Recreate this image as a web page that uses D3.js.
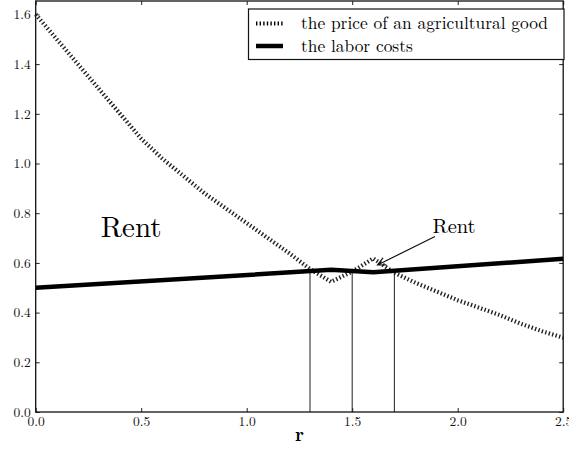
<!DOCTYPE html>
<html>
<head>
<meta charset="utf-8">
<script src="https://cdn.jsdelivr.net/npm/d3@7"></script>
<style>
  body { margin: 0; background: #fff; }
</style>
</head>
<body>
<div id="chart"></div>
<script>
(function () {
    'use strict';

    // price of an agricultural good
    var priceR = [0.0, 0.1, 0.2, 0.3, 0.4, 0.5, 0.6, 0.7, 0.8, 0.9, 1.0, 1.1, 1.2, 1.3,
        1.4, 1.5, 1.6, 1.7, 1.8, 1.9, 2.0, 2.1, 2.2, 2.3, 2.4, 2.5];
    var priceV = [1.600, 1.50, 1.40, 1.30, 1.20, 1.10, 1.02, 0.95, 0.88, 0.82, 0.76, 0.70, 0.64, 0.575,
        0.524, 0.565, 0.618, 0.560, 0.520, 0.485, 0.450, 0.420, 0.390, 0.355, 0.325, 0.299];

    // labor costs
    var laborR = [0.0, 1.4, 1.6, 2.5];
    var laborV = [0.500, 0.572, 0.562, 0.617];

    // vertical markers
    var markR = [1.3, 1.5, 1.7];
    var markV = [0.569, 0.570, 0.566];

    var xTicks = [0.0, 0.5, 1.0, 1.5, 2.0, 2.5];
    var yTicks = [0.0, 0.2, 0.4, 0.6, 0.8, 1.0, 1.2, 1.4, 1.6];
    var seriesNames = ['the price of an agricultural good', 'the labor costs'];

    var FONT = '"Latin Modern Roman", "CMU Serif", "Liberation Serif", serif';
    var W = 569, H = 452;
    var left = 35.7, right = 563.2, top = 1, bottom = 412;

    var svg = d3.select('#chart').append('svg')
        .attr('width', W).attr('height', H);
    svg.append('rect').attr('width', W).attr('height', H).attr('fill', '#fff');

    var x = d3.scaleLinear().domain([0, 2.5]).range([left, right]);
    var y = d3.scaleLinear().domain([0, 1.654]).range([bottom, top]);

    var fmt = d3.format('.1f');

    var line = d3.line()
        .x(function (d) { return x(d[0]); })
        .y(function (d) { return y(d[1]); });

    var price = priceR.map(function (r, i) { return [r, priceV[i]]; });
    var labor = laborR.map(function (r, i) { return [r, laborV[i]]; });

    var plot = svg.append('g');

    // vertical lines
    plot.selectAll('.mark')
        .data(markR)
        .enter()
        .append('line')
        .attr('class', 'mark')
        .attr('x1', function (d) { return x(d); })
        .attr('x2', function (d) { return x(d); })
        .attr('y1', y(0))
        .attr('y2', function (d, i) { return y(markV[i]); })
        .attr('stroke', '#333')
        .attr('stroke-width', 1.1);

    plot.append('path')
        .datum(price)
        .attr('d', line)
        .attr('fill', 'none')
        .attr('stroke', '#222')
        .attr('stroke-width', 4.2)
        .attr('stroke-dasharray', '1.4,2.2');

    plot.append('path')
        .datum(labor)
        .attr('d', line)
        .attr('fill', 'none')
        .attr('stroke', '#000')
        .attr('stroke-width', 4.5)
        .attr('stroke-linejoin', 'round');

    // axes, ticks inside like matplotlib
    var axes = svg.append('g').attr('class', 'axes');
    axes.append('g')
        .attr('transform', 'translate(0,' + bottom + ')')
        .call(d3.axisBottom(x).tickValues(xTicks).tickFormat(fmt).tickSize(-4).tickPadding(4));
    axes.append('g')
        .attr('transform', 'translate(0,' + top + ')')
        .call(d3.axisTop(x).tickValues(xTicks).tickFormat('').tickSize(-4));
    axes.append('g')
        .attr('transform', 'translate(' + left + ',0)')
        .call(d3.axisLeft(y).tickValues(yTicks).tickFormat(fmt).tickSize(-4).tickPadding(5));
    axes.append('g')
        .attr('transform', 'translate(' + right + ',0)')
        .call(d3.axisRight(y).tickValues(yTicks).tickFormat('').tickSize(-4));

    axes.selectAll('.domain').remove();
    axes.selectAll('.tick line').attr('stroke', '#222');
    axes.selectAll('.tick text')
        .attr('fill', '#111')
        .style('font-family', FONT)
        .style('font-size', '13.5px');

    axes.append('rect')
        .attr('x', left).attr('y', top)
        .attr('width', right - left).attr('height', bottom - top)
        .attr('fill', 'none')
        .attr('stroke', '#111')
        .attr('stroke-width', 1.3);

    // axis label
    svg.append('text')
        .attr('x', (left + right) / 2)
        .attr('y', 441)
        .attr('text-anchor', 'middle')
        .style('font-family', FONT)
        .style('font-size', '19px')
        .style('font-weight', 'bold')
        .text('r');

    // big label
    svg.append('text')
        .attr('x', x(0.308))
        .attr('y', y(0.703))
        .style('font-family', FONT)
        .style('font-size', '29px')
        .text('Rent');

    // annotation with arrow
    var ax0 = 435, ay0 = 236.5, ax1 = 377.5, ay1 = 265;
    svg.append('text')
        .attr('x', x(1.881))
        .attr('y', y(0.72))
        .style('font-family', FONT)
        .style('font-size', '20.5px')
        .text('Rent');
    var ang = Math.atan2(ay0 - ay1, ax0 - ax1);
    var hl = 9, hw = 0.45;
    svg.append('path')
        .attr('d', 'M' + ax0 + ',' + ay0 + 'L' + ax1 + ',' + ay1 +
            'M' + (ax1 + hl * Math.cos(ang + hw)) + ',' + (ay1 + hl * Math.sin(ang + hw)) +
            'L' + ax1 + ',' + ay1 +
            'L' + (ax1 + hl * Math.cos(ang - hw)) + ',' + (ay1 + hl * Math.sin(ang - hw)))
        .attr('fill', 'none')
        .attr('stroke', '#111')
        .attr('stroke-width', 1.2);

    // legend
    var lg = svg.append('g').attr('class', 'legend');
    lg.append('rect')
        .attr('x', 248.5).attr('y', 9)
        .attr('width', 315.5).attr('height', 50.5)
        .attr('fill', '#fff')
        .attr('stroke', '#111')
        .attr('stroke-width', 1.2);
    var rows = lg.selectAll('.row')
        .data(seriesNames)
        .enter()
        .append('g')
        .attr('class', 'row')
        .attr('transform', function (d, i) { return 'translate(0,' + (23.5 + i * 22.5) + ')'; });
    rows.append('line')
        .attr('x1', 256).attr('x2', 283)
        .attr('stroke', '#000')
        .attr('stroke-width', function (d, i) { return i === 0 ? 4.2 : 4.5; })
        .attr('stroke-dasharray', function (d, i) { return i === 0 ? '1.4,2.2' : null; });
    rows.append('text')
        .attr('x', 301)
        .attr('dy', '0.32em')
        .style('font-family', FONT)
        .style('font-size', '17.4px')
        .text(function (d) { return d; });
}());
</script>
</body>
</html>
